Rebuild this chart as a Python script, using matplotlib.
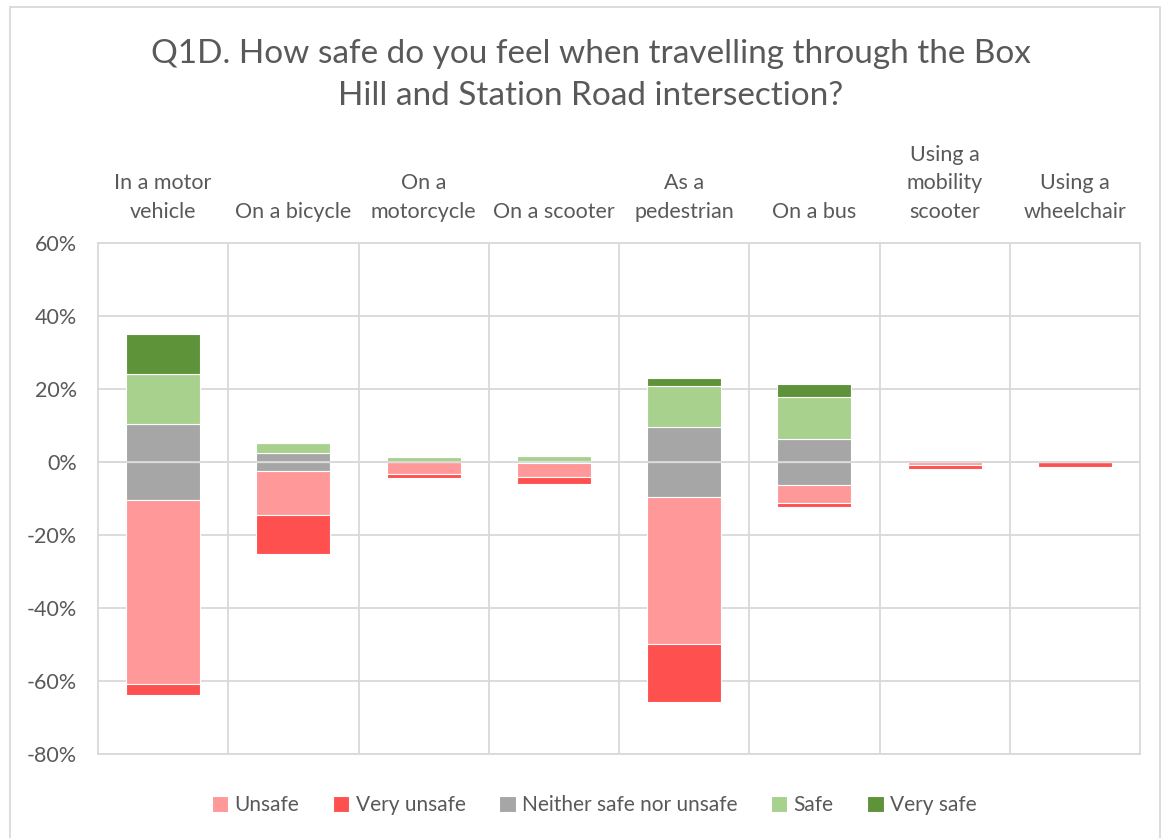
import numpy as np
import matplotlib.pyplot as plt
from matplotlib.patches import Rectangle

# =========================
# Data (percent of respondents)
# =========================
categories = ["In a motor\nvehicle", "On a bicycle", "On a\nmotorcycle", "On a scooter",
              "As a\npedestrian", "On a bus", "Using a\nmobility\nscooter", "Using a\nwheelchair"]

very_unsafe = [3.0, 10.7, 1.3, 2.0, 15.8, 1.0, 0.9, 1.4]
unsafe = [50.5, 12.1, 3.1, 3.8, 40.2, 5.1, 0.8, 0.0]
neither = [20.6, 4.8, 0.2, 0.6, 19.3, 12.4, 0.2, 0.0]
safe = [13.8, 2.7, 1.2, 1.3, 11.2, 11.7, 0.4, 0.0]
very_safe = [11.1, 0.4, 0.3, 0.0, 2.1, 3.6, 0.0, 0.0]

yticks = [-80, -60, -40, -20, 0, 20, 40, 60]

colors = {
    "Unsafe": "#FF9999",
    "Very unsafe": "#FF5050",
    "Neither safe nor unsafe": "#A6A6A6",
    "Safe": "#A9D18E",
    "Very safe": "#5F9339",
}

text_col = "#595959"
grid_col = "#D9D9D9"
plt.rcParams["font.family"] = ["Lato", "DejaVu Sans"]

# =========================
# Plot
# =========================
fig = plt.figure(figsize=(11.65, 8.38), dpi=100)
ax = fig.add_axes([98 / 1165, 1 - 754 / 838, (1140 - 98) / 1165, (754 - 243) / 838])

x = np.arange(len(categories))
w = 0.57
half = np.array(neither) / 2
unsafe = np.array(unsafe)
very_unsafe = np.array(very_unsafe)
safe = np.array(safe)
very_safe = np.array(very_safe)

kw = dict(width=w, edgecolor="white", linewidth=0.8, zorder=2)
# negative side
ax.bar(x, -half, color=colors["Neither safe nor unsafe"], **kw)
ax.bar(x, -unsafe, bottom=-half, color=colors["Unsafe"], label="Unsafe", **kw)
ax.bar(x, -very_unsafe, bottom=-half - unsafe, color=colors["Very unsafe"], label="Very unsafe", **kw)
# positive side
ax.bar(x, half, color=colors["Neither safe nor unsafe"], label="Neither safe nor unsafe", **kw)
ax.bar(x, safe, bottom=half, color=colors["Safe"], label="Safe", **kw)
ax.bar(x, very_safe, bottom=half + safe, color=colors["Very safe"], label="Very safe", **kw)

ax.set_xlim(-0.5, len(categories) - 0.5)
ax.set_ylim(-80, 60)
ax.set_yticks(yticks)
ax.set_yticklabels([f"{t}%" for t in yticks], color=text_col, fontsize=15.5)
ax.tick_params(axis="y", length=0, pad=15)
ax.set_xticks([])

ax.grid(axis="y", color=grid_col, linewidth=1.3, zorder=0)
ax.set_axisbelow(True)
ax.axhline(0, color=grid_col, linewidth=1.3, zorder=3)
for k in range(1, len(categories)):
    ax.axvline(k - 0.5, color=grid_col, linewidth=1.3, zorder=0)
for s in ax.spines.values():
    s.set_color(grid_col)
    s.set_linewidth(1.3)

# category labels above the plot area
for i, c in enumerate(categories):
    ax.annotate(c, xy=(i, 1), xycoords=("data", "axes fraction"), xytext=(0, 15),
                textcoords="offset points", ha="center", va="bottom",
                fontsize=15.5, color=text_col, linespacing=1.55)

fig.text(0.507, 1 - 75 / 838, "Q1D. How safe do you feel when travelling through the Box\nHill and Station Road intersection?",
         ha="center", va="center", fontsize=24, color=text_col, linespacing=1.5)

handles, labels = ax.get_legend_handles_labels()
order = ["Unsafe", "Very unsafe", "Neither safe nor unsafe", "Safe", "Very safe"]
hmap = dict(zip(labels, handles))
leg = fig.legend([hmap[o] for o in order], order, loc="center", ncol=5,
                 bbox_to_anchor=(0.51, 1 - 805 / 838), frameon=False, fontsize=15,
                 handlelength=0.8, handleheight=0.8, handletextpad=0.3, columnspacing=1.6)
for t in leg.get_texts():
    t.set_color(text_col)

# chart border
fig.patches.append(Rectangle((10 / 1165, -0.01), 1150 / 1165, 1 - 7 / 838 + 0.01,
                             transform=fig.transFigure, fill=False, edgecolor=grid_col, linewidth=1.3))

fig.savefig("out.png", dpi=100)
